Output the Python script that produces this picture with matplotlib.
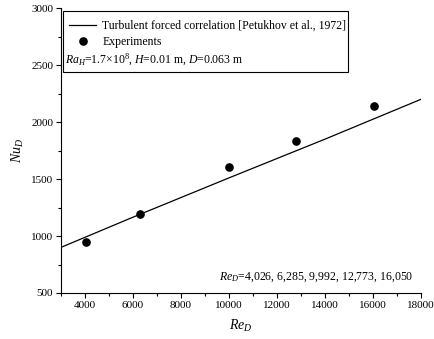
import matplotlib
matplotlib.use('Agg')
import matplotlib.pyplot as plt
from matplotlib.patches import Rectangle
from matplotlib.ticker import MultipleLocator

# Correlation line
re_corr = [3000, 6000, 10000, 14000, 18000]
nu_corr = [900, 1165, 1510, 1850, 2200]

# Experiments
re_exp = [4026, 6285, 9992, 12773, 16050]
nu_exp = [950, 1190, 1606, 1838, 2138]

plt.rcParams['font.family'] = ['Liberation Serif', 'DejaVu Serif']
plt.rcParams['mathtext.fontset'] = 'custom'
plt.rcParams['mathtext.rm'] = 'Liberation Serif'
plt.rcParams['mathtext.it'] = 'Liberation Serif:italic'

fig = plt.figure(figsize=(4.35, 3.39), dpi=100)
ax = fig.add_axes([0.140, 0.1357, 0.828, 0.8405])

ax.plot(re_corr, nu_corr, color='black', linewidth=0.9,
        label='Turbulent forced correlation [Petukhov et al., 1972]')
ax.plot(re_exp, nu_exp, 'o', color='black', markersize=5.2, linestyle='none',
        label='Experiments')

ax.set_xlim(3000, 18000)
ax.set_ylim(500, 3000)
ax.xaxis.set_major_locator(MultipleLocator(2000))
ax.xaxis.set_minor_locator(MultipleLocator(1000))
ax.yaxis.set_major_locator(MultipleLocator(500))
ax.yaxis.set_minor_locator(MultipleLocator(250))
ax.set_xticks(range(4000, 18001, 2000))

ax.spines['top'].set_visible(False)
ax.spines['right'].set_visible(False)
for s in ['left', 'bottom']:
    ax.spines[s].set_linewidth(0.8)
ax.tick_params(which='major', direction='out', length=3.5, width=0.8, labelsize=8, pad=2)
ax.tick_params(which='minor', direction='out', length=2, width=0.8)

ax.set_xlabel(r'$Re_D$', fontsize=10, labelpad=6)
ax.set_ylabel(r'$Nu_D$', fontsize=10, labelpad=4)

# legend box with the extra parameter line
ax.add_patch(Rectangle((0.0056, 0.775), 0.791, 0.214, transform=ax.transAxes,
                       fill=False, edgecolor='black', linewidth=0.8, clip_on=False))
ax.legend(loc='upper left', bbox_to_anchor=(0.0, 0.988), frameon=False,
          fontsize=8.5, handlelength=2.3, handletextpad=0.5, labelspacing=0.4,
          borderaxespad=0.3)
ax.text(0.012, 0.818, r'$Ra_H$=1.7×10$^8$, $H$=0.01 m, $D$=0.063 m',
        transform=ax.transAxes, fontsize=8.5, ha='left', va='center')

ax.text(0.98, 0.055, r'$Re_D$=4,026, 6,285, 9,992, 12,773, 16,050',
        transform=ax.transAxes, fontsize=8.5, ha='right', va='center')

fig.savefig('out.png', dpi=100)
